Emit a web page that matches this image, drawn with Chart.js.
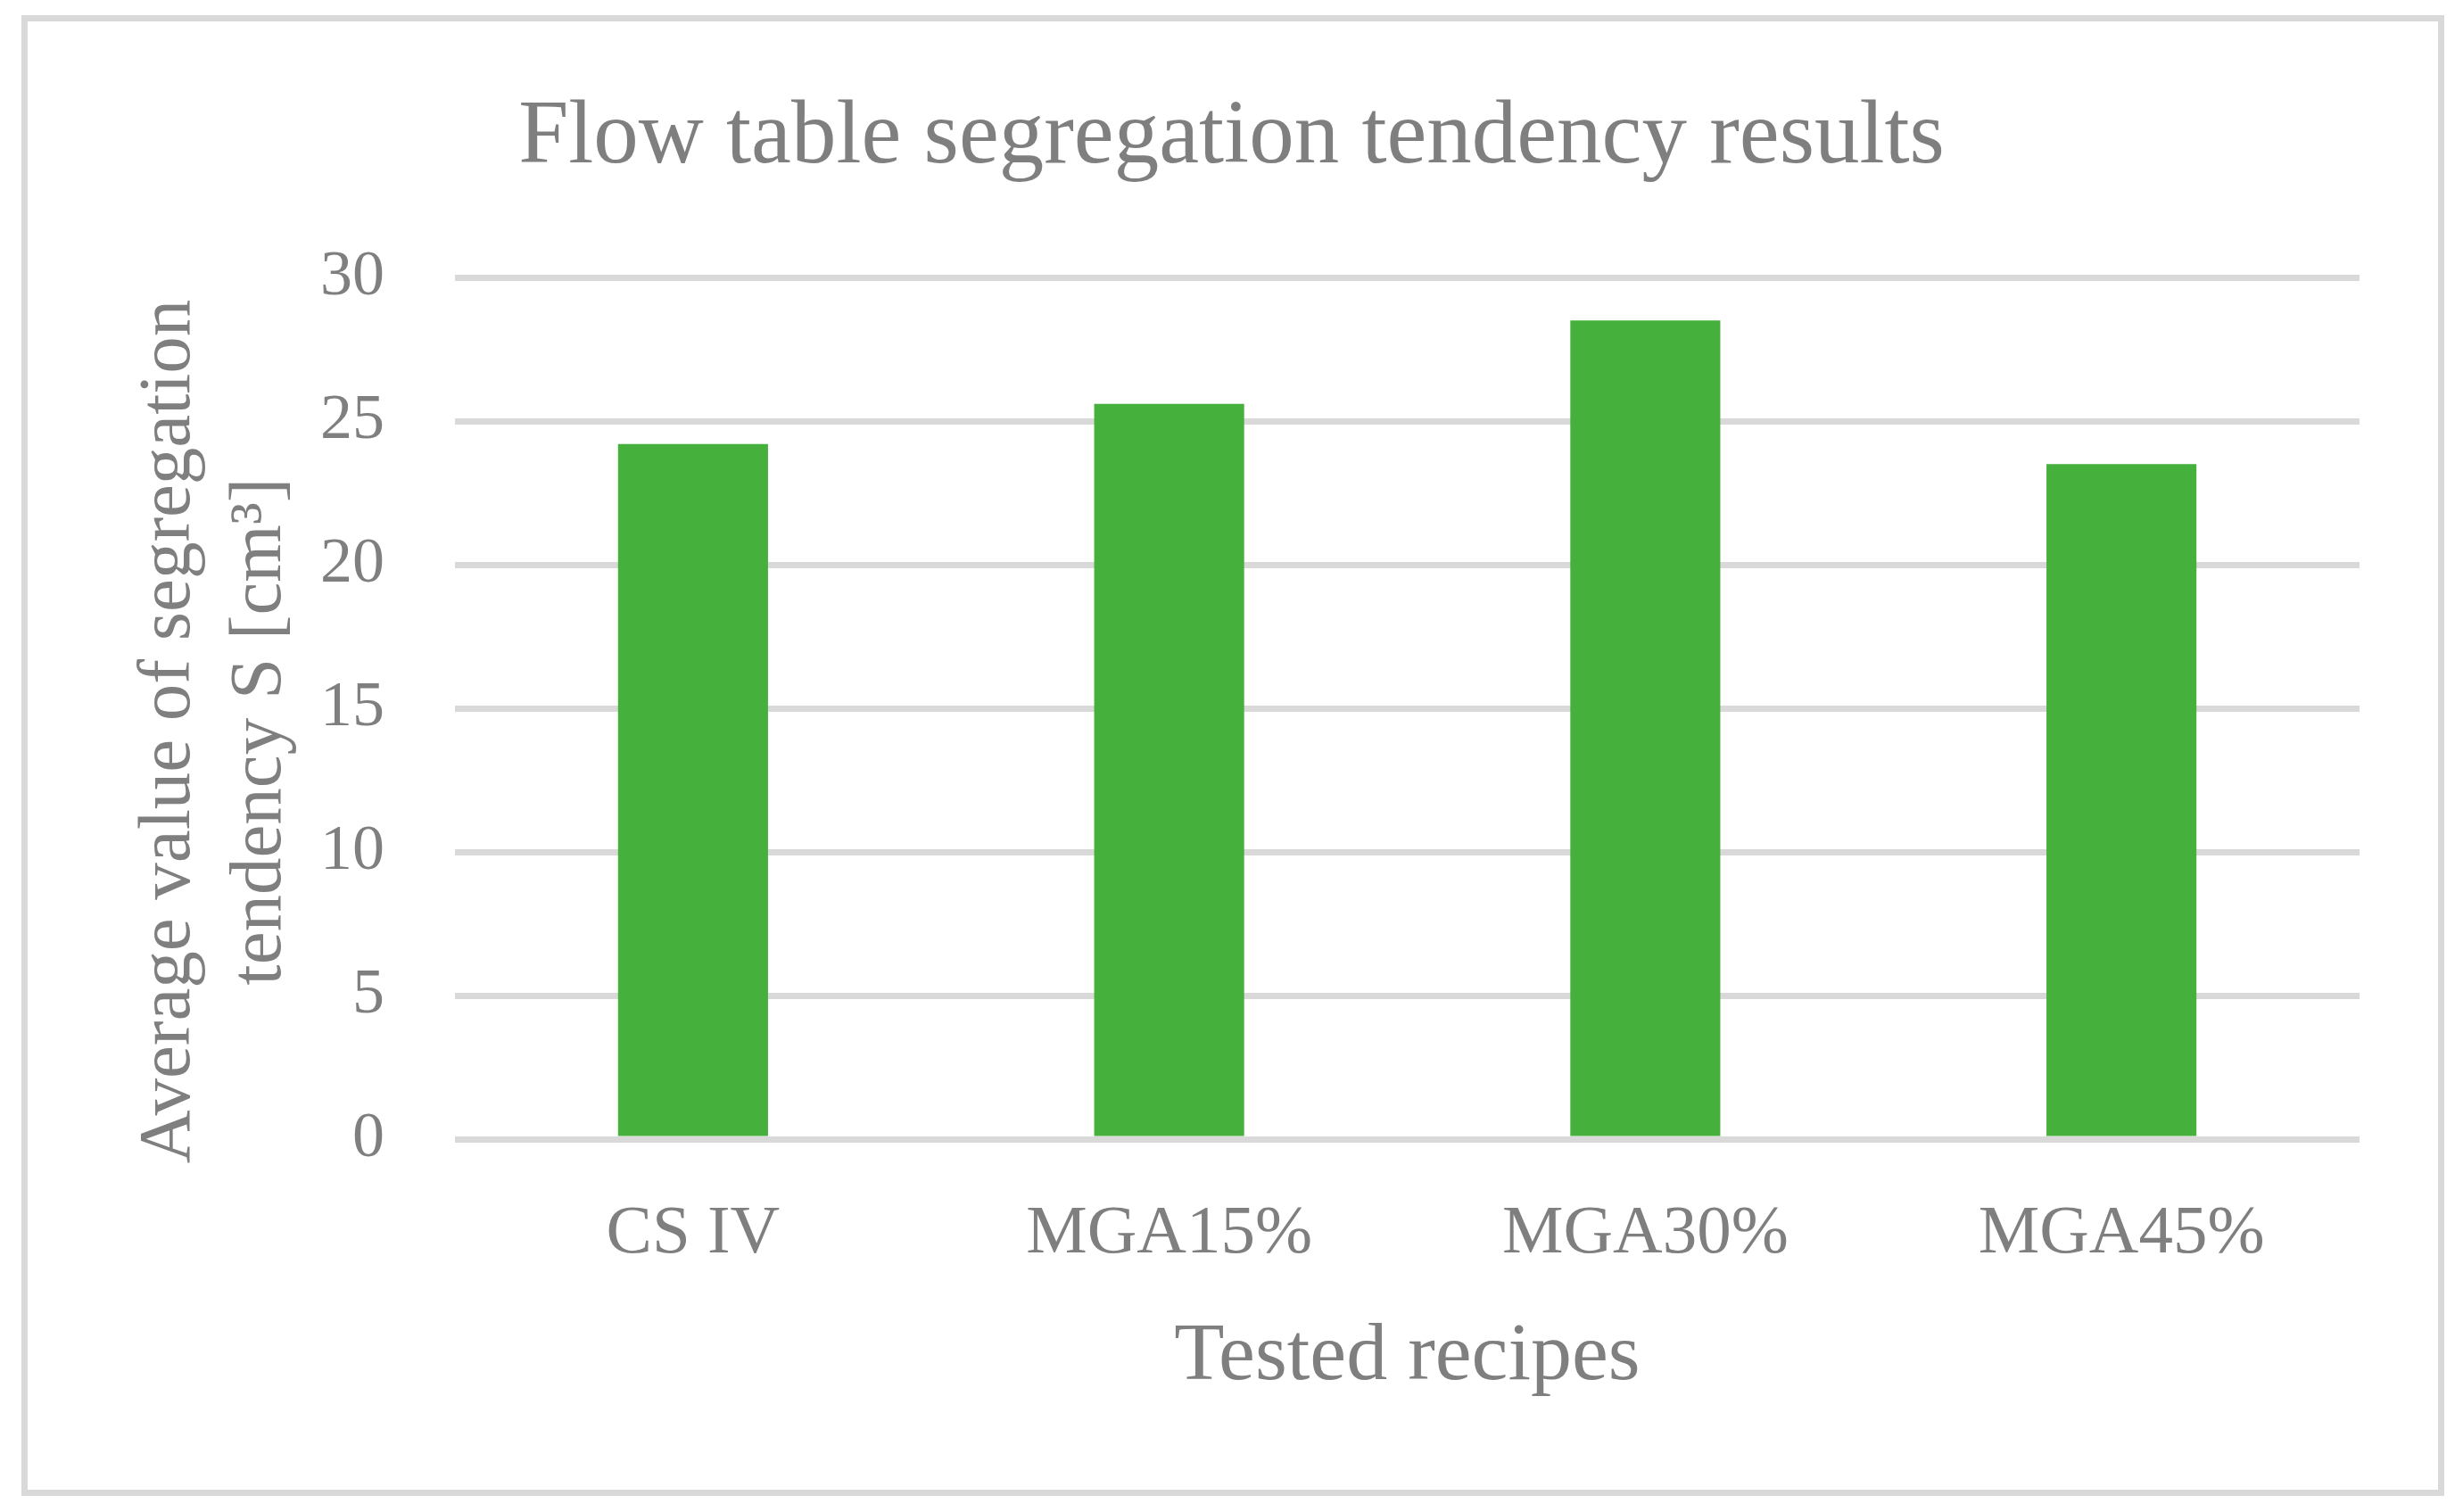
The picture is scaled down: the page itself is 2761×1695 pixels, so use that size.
<!DOCTYPE html>
<html>
<head>
<meta charset="utf-8">
<script src="https://cdn.jsdelivr.net/npm/chart.js@4/dist/chart.umd.min.js"></script>
<style>
  html, body { margin: 0; padding: 0; background: #ffffff; }
  #frame { position: absolute; left: 24px; top: 17px; width: 2716px; height: 1660px; box-sizing: border-box; border: 7px solid #d9d9d9; }
  #c { position: absolute; left: 0; top: 0; }
</style>
</head>
<body>
<div id="frame"></div>
<canvas id="c" width="2761" height="1695"></canvas>
<script>
const chartTitle = 'Flow table segregation tendency results';
const categories = ['CS IV', 'MGA15%', 'MGA30%', 'MGA45%'];
const segregationValues = [24.2, 25.6, 28.5, 23.5];
const yAxisTitle = ['Average value of segregation', 'tendency S [cm³]'];
const xAxisTitle = 'Tested recipes';
const yTickValues = [0, 5, 10, 15, 20, 25, 30];

const FONT = "'Liberation Serif', 'Times New Roman', serif";
const TEXT = '#7f7f7f';

// shifts the y-axis title slightly downward (the reference centres it a bit below the plot centre)
const yTitleShift = {
  id: 'yTitleShift',
  afterLayout(chart) {
    const y = chart.scales.y;
    y.bottom += 52;
  }
};

new Chart(document.getElementById('c'), {
  type: 'bar',
  data: {
    labels: categories,
    datasets: [{
      data: segregationValues,
      backgroundColor: '#46b03c',
      borderWidth: 0,
      categoryPercentage: 1,
      barPercentage: 0.315
    }]
  },
  plugins: [yTitleShift],
  options: {
    responsive: false,
    animation: false,
    layout: { padding: { left: 116, right: 116, top: 0, bottom: 0 } },
    plugins: {
      legend: { display: false },
      tooltip: { enabled: false },
      title: {
        display: true,
        text: chartTitle,
        color: TEXT,
        font: { family: FONT, size: 101, weight: 'normal', lineHeight: 1 },
        padding: { top: 105, bottom: 105 }
      }
    },
    scales: {
      y: {
        min: 0,
        max: 30,
        afterBuildTicks: (s) => { s.ticks = yTickValues.map(v => ({ value: v })); },
        afterFit: (s) => { s.width = 394; },
        border: { display: false },
        grid: { color: '#d9d9d9', lineWidth: 7, drawTicks: false },
        ticks: { color: TEXT, padding: 79, font: { family: FONT, size: 72, lineHeight: 1 } },
        title: {
          display: true,
          text: yAxisTitle,
          color: TEXT,
          font: { family: FONT, size: 83, lineHeight: 1.23 },
          padding: { top: 23, bottom: 0 }
        }
      },
      x: {
        afterFit: (s) => { s.height = 418; },
        border: { display: false },
        grid: { display: false, drawTicks: false },
        ticks: { color: TEXT, padding: 68, font: { family: FONT, size: 77, lineHeight: 1 } },
        title: {
          display: true,
          text: xAxisTitle,
          color: TEXT,
          font: { family: FONT, size: 92, lineHeight: 1 },
          padding: { top: 0, bottom: 127 }
        }
      }
    }
  }
});
</script>
</body>
</html>
